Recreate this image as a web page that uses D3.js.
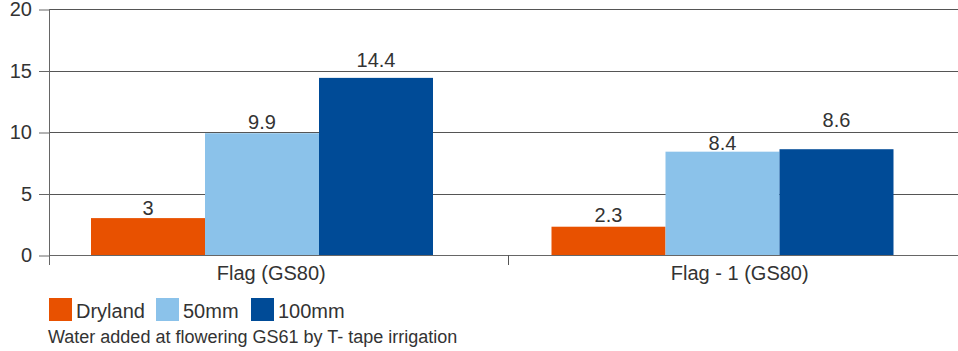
<!DOCTYPE html>
<html>
<head>
<meta charset="utf-8">
<script src="https://cdn.jsdelivr.net/npm/d3@7"></script>
<style>
  html, body { margin: 0; padding: 0; background: #fff; }
  svg text { font-family: "Liberation Sans", Arial, Helvetica, sans-serif; fill: #333; }
</style>
</head>
<body>
<svg id="chart" width="958" height="351"></svg>
<script>
// Yield by tiller position and irrigation treatment
const categories = ["Flag (GS80)", "Flag - 1 (GS80)"];
const series = ["Dryland", "50mm", "100mm"];
const dryland = [3, 2.3];
const mm50 = [9.9, 8.4];
const mm100 = [14.4, 8.6];
const yTicks = [0, 5, 10, 15, 20];
const colors = ["#E85100", "#8BC2EA", "#004B97"];
const footnote = "Water added at flowering GS61 by T- tape irrigation";

const values = [dryland, mm50, mm100];

// gap (px) between each bar top and its value label, per category then series
const labelLift = [[3, 4, 11], [5, 2, 22]];

const svg = d3.select("#chart");
const plot = { left: 49, top: 9, bottom: 255, right: 970 };

const y = d3.scaleLinear().domain([0, 20]).range([plot.bottom, plot.top]);
const x0 = d3.scaleBand().domain(categories).range([plot.left, plot.right]).padding(0);
const x1 = d3.scaleBand().domain(series).range([42, 384]).padding(0);

// horizontal gridlines with left tick marks
const yAxis = d3.axisLeft(y).tickValues(yTicks).tickSize(10).tickPadding(7).tickFormat(d3.format("d"));
const gy = svg.append("g").attr("transform", `translate(${plot.left},0.5)`).call(yAxis);
gy.select(".domain").remove();
gy.selectAll(".tick line").attr("stroke", "#666");
gy.selectAll(".tick text").style("font-size", "20px").attr("fill", "#333");

svg.append("g").selectAll("line").data(yTicks).join("line")
  .attr("x1", plot.left).attr("x2", 958)
  .attr("y1", d => Math.round(y(d)) + 0.5).attr("y2", d => Math.round(y(d)) + 0.5)
  .attr("stroke", "#555").attr("stroke-width", 1);

// vertical axis line
svg.append("line")
  .attr("x1", plot.left + 0.5).attr("x2", plot.left + 0.5)
  .attr("y1", plot.top).attr("y2", plot.bottom + 10)
  .attr("stroke", "#666");

// bars
const groups = svg.append("g").selectAll("g").data(categories).join("g")
  .attr("transform", d => `translate(${x0(d)},0)`);

const cells = (c, ci) => series.map((s, si) => ({ s, si, ci, v: values[si][ci] }));

groups.selectAll("rect")
  .data(cells)
  .join("rect")
  .attr("x", d => x1(d.s))
  .attr("width", x1.bandwidth())
  .attr("y", d => y(d.v))
  .attr("height", d => y(0) - y(d.v))
  .attr("fill", d => colors[d.si]);

groups.selectAll("text.val")
  .data(cells)
  .join("text")
  .attr("class", "val")
  .attr("x", d => x1(d.s) + x1.bandwidth() / 2)
  .attr("y", d => y(d.v) - labelLift[d.ci][d.si])
  .attr("text-anchor", "middle")
  .style("font-size", "20px")
  .text(d => d.v);

// baseline drawn over bars
svg.append("line")
  .attr("x1", plot.left).attr("x2", 958)
  .attr("y1", Math.round(y(0)) + 0.5).attr("y2", Math.round(y(0)) + 0.5)
  .attr("stroke", "#666");

// category divider ticks
svg.append("g").selectAll("line").data(categories.slice(1)).join("line")
  .attr("x1", d => Math.round(x0(d)) - 1.5).attr("x2", d => Math.round(x0(d)) - 1.5)
  .attr("y1", plot.bottom).attr("y2", plot.bottom + 10)
  .attr("stroke", "#555");

// category labels
svg.append("g").selectAll("text").data(categories).join("text")
  .attr("x", (d, i) => x0(d) + x0.bandwidth() / 2 + (i === 0 ? -8 : 0))
  .attr("y", 280)
  .attr("text-anchor", "middle")
  .style("font-size", "20px")
  .text(d => d);

// legend
const legendX = [49, 156, 251];
const legend = svg.append("g").selectAll("g").data(series).join("g")
  .attr("transform", (d, i) => `translate(${legendX[i]},298)`);
legend.append("rect").attr("width", 23).attr("height", 23).attr("fill", (d, i) => colors[i]);
legend.append("text").attr("x", 27).attr("y", 20).style("font-size", "20px").text(d => d);

svg.append("text").attr("x", 48).attr("y", 343).style("font-size", "18px").text(footnote);
</script>
</body>
</html>
